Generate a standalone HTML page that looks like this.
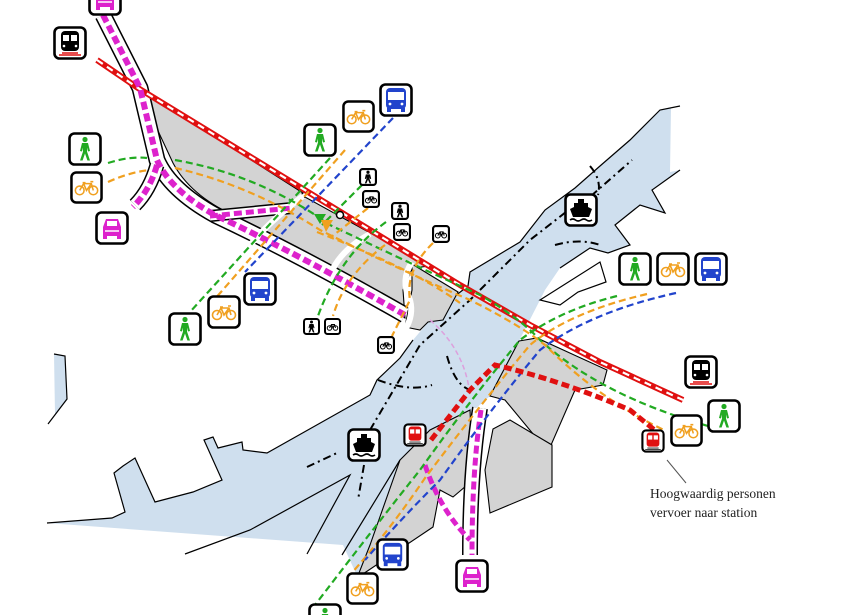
<!DOCTYPE html>
<html><head><meta charset="utf-8"><style>
html,body{margin:0;padding:0;background:#fff;}
svg{display:block;}
</style></head><body>
<svg width="866" height="615" viewBox="0 0 866 615" xmlns="http://www.w3.org/2000/svg">
<defs>
<symbol id="ped" viewBox="0 0 34 34"><rect x="1.5" y="1.5" width="31" height="31" rx="5" fill="#fff" stroke="#000" stroke-width="2.6"/><g fill="#22aa22"><circle cx="17" cy="7.5" r="2.6"/><path d="M14 11h6l2 8-2 .5-1-4v4l3 9h-2.6l-2.4-7-2.4 7h-2.6l3-9v-4l-1 4-2-.5z"/></g></symbol>
<symbol id="bike" viewBox="0 0 34 34"><rect x="1.5" y="1.5" width="31" height="31" rx="5" fill="#fff" stroke="#000" stroke-width="2.6"/><g fill="none" stroke="#f0a020" stroke-width="1.6"><circle cx="10" cy="20" r="4.5"/><circle cx="24" cy="20" r="4.5"/><path d="M10 20l4-7h8l2 7M14 13l3 7 5-7M13 12h3M21 11h3"/></g></symbol>
<symbol id="sbike" viewBox="0 0 34 34"><rect x="2" y="2" width="30" height="30" rx="5" fill="#fff" stroke="#000" stroke-width="4"/><g fill="none" stroke="#000" stroke-width="2"><circle cx="11" cy="20" r="4.5"/><circle cx="23" cy="20" r="4.5"/><path d="M11 20l4-7h6l2 7M15 13l3 7 3-7"/></g></symbol>
<symbol id="sped" viewBox="0 0 34 34"><rect x="2" y="2" width="30" height="30" rx="5" fill="#fff" stroke="#000" stroke-width="4"/><circle cx="17" cy="8" r="3"/><path d="M13 12h8l2 8-2 1-1-4v4l3 8h-3l-3-7-3 7h-3l3-8v-4l-1 4-2-1z"/></symbol>
<symbol id="bus" viewBox="0 0 34 34"><rect x="1.5" y="1.5" width="31" height="31" rx="5" fill="#fff" stroke="#000" stroke-width="2.6"/><rect x="7" y="5" width="20" height="21" rx="4" fill="#2244cc"/><rect x="9" y="9" width="16" height="8" fill="#fff"/><rect x="8" y="25" width="4" height="4" fill="#2244cc"/><rect x="22" y="25" width="4" height="4" fill="#2244cc"/><circle cx="11" cy="21" r="1.4" fill="#fff"/><circle cx="23" cy="21" r="1.4" fill="#fff"/></symbol>
<symbol id="car" viewBox="0 0 34 34"><rect x="1.5" y="1.5" width="31" height="31" rx="5" fill="#fff" stroke="#000" stroke-width="2.6"/><path d="M8 16l3-8h12l3 8v9H8z" fill="#dd22cc"/><rect x="12" y="10" width="10" height="5" fill="#fff"/><rect x="8" y="24" width="4" height="4" fill="#dd22cc"/><rect x="22" y="24" width="4" height="4" fill="#dd22cc"/><path d="M10 20h14" stroke="#fff" stroke-width="1.5"/></symbol>
<symbol id="train" viewBox="0 0 34 34"><rect x="1.5" y="1.5" width="31" height="31" rx="5" fill="#fff" stroke="#000" stroke-width="2.6"/><rect x="8" y="5" width="18" height="20" rx="4" fill="#000"/><rect x="10" y="9" width="6" height="6" fill="#fff"/><rect x="18" y="9" width="6" height="6" fill="#fff"/><circle cx="11" cy="20" r="1.3" fill="#fff"/><circle cx="23" cy="20" r="1.3" fill="#fff"/><path d="M9 27h16M6 29h22" stroke="#e01010" stroke-width="1.6"/></symbol>
<symbol id="rtrain" viewBox="0 0 34 34"><rect x="2" y="2" width="30" height="30" rx="5" fill="#fff" stroke="#000" stroke-width="3"/><rect x="8" y="5" width="18" height="20" rx="4" fill="#e01010"/><rect x="10" y="9" width="6" height="6" fill="#fff"/><rect x="18" y="9" width="6" height="6" fill="#fff"/><path d="M9 27h16M6 29h22" stroke="#444" stroke-width="1.5"/></symbol>
<symbol id="ship" viewBox="0 0 34 34"><rect x="1.5" y="1.5" width="31" height="31" rx="5" fill="#fff" stroke="#000" stroke-width="2.6"/><path d="M14 6h6v4h4v4l4 2-3 8H9l-3-8 4-2v-4h4z" fill="#000"/><path d="M6 27q3-2 5.5 0t5.5 0 5.5 0 5.5 0" stroke="#000" stroke-width="1.6" fill="none"/></symbol>
</defs>

<g fill="#cfdfee" stroke="none">
<polygon points="54,354 65,356 67,399 55,414"/>
<path d="M47,523 L112,518 L125,512 L114,473 L123,466 L135,458 L155,502 L193,492 L222,480 L204,440 L213,437 L218,448 L242,442 L243,450 L267,453 L370,395 L377,380 L400,358 L413,340 L430,320 L468,286 L470,272 L520,242 L545,210 L575,188 L600,166 L630,140 L660,110 L680,106 L671,108 L670,172 L680,170 L652,190 L665,213 L640,205 L615,225 L630,245 L608,253 L590,248 L560,268 L545,290 L540,300 L519,341 L490,396 L457,425 L424,487 L358,578 L343,545 Z"/>
</g>
<g fill="none" stroke="#000" stroke-width="1.2">
<path d="M54,354 L65,356 L67,399 L48,424"/>
<path d="M47,523 L112,518 L125,512 L114,473 L123,466 L135,458 L155,502 L193,492 L222,480 L204,440 L213,437 L218,448 L242,442 L243,450 L267,453 L370,395 L377,380 L400,358 L413,340"/>
<path d="M430,320 L450,300 L468,286 L470,272 L520,242 L545,210 L575,188 L600,166 L630,140 L660,110 L680,106"/>
<path d="M680,170 L652,190 L665,213 L640,205 L615,225 L630,245 L608,253 L590,248 L560,268"/>
<path d="M540,300 L600,262 L606,282 L578,292 L560,305 Z" fill="#fff"/>
<path d="M185,554 L250,530 L350,475 L307,554"/>
<path d="M342,555 L400,460"/>
</g>

<g fill="none" stroke="#000" stroke-width="2" stroke-dasharray="8,4,2,4">
<path d="M307,467 L337,453"/>
<path d="M370,430 L420,345 L470,300 L530,240 L575,205"/>
<path d="M591,196 L632,160"/>
<path d="M364,465 L358,500"/>
<path d="M378,380 Q410,392 432,385"/>
<path d="M447,356 Q455,385 470,390"/>
<path d="M555,245 Q580,238 600,245"/>
<path d="M590,166 Q602,180 598,195"/>
</g>

<g fill="#d3d3d3" stroke="#000" stroke-width="1.1">
<path d="M138,88 L303,193 L286,207 L233,215 Q190,195 173,163 Z"/>
<path d="M235,220 L285,210 L305,197 L430,266 L412,268 L403,290 L405,318 Q330,280 260,243 Z"/>
<path d="M412,264 L458,292 L443,320 L428,322 L420,330 L405,327 L412,290 Z"/>
<path d="M519,341 L537,338 L607,370 L603,385 L575,390 L548,452 L505,400 L490,396 Z"/>
<path d="M493,429 L510,420 L552,445 L552,487 L490,513 L485,470 Z"/>
<path d="M400,460 L430,430 L470,410 L473,480 L453,497 L440,490 L433,527 L357,578 L370,545 Z"/>
</g>

<g fill="none" stroke-linecap="butt" stroke-linejoin="round">
<path d="M103,15 L140,88 L157,160 Q170,190 215,215 Q300,255 405,315" stroke="#000" stroke-width="17"/>
<path d="M103,15 L140,88 L157,160 Q170,190 215,215 Q300,255 405,315" stroke="#fff" stroke-width="14"/>
<path d="M157,165 Q150,190 135,205" stroke="#000" stroke-width="15"/>
<path d="M157,165 Q150,190 135,205" stroke="#fff" stroke-width="12"/>
<path d="M210,216 L292,208" stroke="#000" stroke-width="12"/>
<path d="M210,216 L292,208" stroke="#fff" stroke-width="9"/>
<path d="M480,408 Q470,470 470,555" stroke="#000" stroke-width="16"/>
<path d="M480,408 Q470,470 470,555" stroke="#fff" stroke-width="13"/>
<path d="M303,196 Q265,225 248,248" stroke="#fff" stroke-width="6"/>
<path d="M370,234 Q340,250 330,275" stroke="#fff" stroke-width="6"/>
<path d="M412,262 Q400,280 410,300 Q414,315 405,330" stroke="#fff" stroke-width="6"/>
<path d="M97,60 L138,88 L460,285 L530,325 L600,362 L683,400" stroke="#e01010" stroke-width="6"/>
<path d="M97,60 L138,88 L460,285 L530,325 L600,362 L683,400" stroke="#fff" stroke-width="2.2" stroke-dasharray="7,5"/>
<path d="M103,15 L140,88 L157,160 Q170,190 215,215 Q300,255 405,315" stroke="#dd22cc" stroke-width="6" stroke-dasharray="8,4"/>
<path d="M157,165 Q150,190 133,207" stroke="#dd22cc" stroke-width="6" stroke-dasharray="8,4"/>
<path d="M210,216 L292,208" stroke="#dd22cc" stroke-width="5" stroke-dasharray="8,4"/>
<path d="M481,410 Q472,470 472,555" stroke="#dd22cc" stroke-width="5" stroke-dasharray="8,4"/>
<path d="M425,465 Q440,510 470,540" stroke="#dd22cc" stroke-width="5" stroke-dasharray="8,4"/>
<path d="M430,320 Q465,350 470,395" stroke="#dda0dd" stroke-width="1.5" stroke-dasharray="5,3"/>
</g>

<g fill="none" stroke-width="2.2" stroke-dasharray="7,4">
<path d="M108,163 Q130,156 147,158" stroke="#22aa22"/>
<path d="M108,182 Q130,172 150,170" stroke="#f0a020"/>
<path d="M175,160 Q260,175 330,225 Q420,268 480,295 Q520,318 540,340 Q600,395 708,426" stroke="#22aa22"/>
<path d="M175,168 Q250,185 320,230 Q400,270 470,300 Q520,325 545,345 Q600,400 666,431" stroke="#f0a020"/>
<path d="M317,232 Q415,270 460,303" stroke="#f0a020"/>
<path d="M330,158 L190,312" stroke="#22aa22"/>
<path d="M345,150 L214,300" stroke="#f0a020"/>
<path d="M393,118 L245,272" stroke="#2244cc"/>
<path d="M362,185 L322,225" stroke="#22aa22"/>
<path d="M368,208 L330,238" stroke="#f0a020"/>
<path d="M386,222 Q340,255 318,316" stroke="#22aa22"/>
<path d="M385,245 Q345,275 333,316" stroke="#f0a020"/>
<path d="M433,243 Q405,270 410,300 Q400,320 392,336" stroke="#f0a020"/>
<path d="M617,296 Q560,310 520,340 Q470,400 420,470 Q380,520 315,605" stroke="#22aa22"/>
<path d="M647,294 Q570,312 530,345 Q480,405 425,478 Q390,530 350,575" stroke="#f0a020"/>
<path d="M676,293 Q590,312 540,350 Q490,410 440,480 Q400,520 365,560" stroke="#2244cc"/>
</g>
<path d="M431,440 L470,390 L495,365 Q560,380 630,410 L657,432" fill="none" stroke="#e01010" stroke-width="5" stroke-dasharray="8,4"/>
<path d="M326,214 L320,224 L314,214Z" fill="#22aa22"/>
<path d="M333,220 L326,232 L321,220Z" fill="#f0a020"/>
<circle cx="340" cy="215" r="3.5" fill="#fff" stroke="#000" stroke-width="1.5"/>

<use href="#car" x="88" y="-18" width="34" height="34"/>
<use href="#train" x="53" y="26" width="34" height="34"/>
<use href="#ped" x="68" y="132" width="34" height="34"/>
<use href="#bike" x="70" y="171" width="33" height="33"/>
<use href="#car" x="95" y="211" width="34" height="34"/>
<use href="#ped" x="303" y="123" width="34" height="34"/>
<use href="#bike" x="342" y="100" width="33" height="33"/>
<use href="#bus" x="379" y="83" width="34" height="34"/>
<use href="#bus" x="243" y="272" width="34" height="34"/>
<use href="#bike" x="207" y="295" width="34" height="34"/>
<use href="#ped" x="168" y="312" width="34" height="34"/>
<use href="#sped" x="359" y="168" width="18" height="18"/>
<use href="#sbike" x="362" y="190" width="18" height="18"/>
<use href="#sped" x="391" y="202" width="18" height="18"/>
<use href="#sbike" x="393" y="223" width="18" height="18"/>
<use href="#sbike" x="432" y="225" width="18" height="18"/>
<use href="#sped" x="303" y="318" width="17" height="17"/>
<use href="#sbike" x="324" y="318" width="17" height="17"/>
<use href="#sbike" x="377" y="336" width="18" height="18"/>
<use href="#ship" x="564" y="193" width="34" height="34"/>
<use href="#ship" x="347" y="428" width="34" height="34"/>
<use href="#ped" x="618" y="252" width="34" height="34"/>
<use href="#bike" x="656" y="252" width="34" height="34"/>
<use href="#bus" x="694" y="252" width="34" height="34"/>
<use href="#train" x="684" y="355" width="34" height="34"/>
<use href="#ped" x="707" y="399" width="34" height="34"/>
<use href="#bike" x="670" y="414" width="33" height="33"/>
<use href="#rtrain" x="641" y="429" width="24" height="24"/>
<use href="#rtrain" x="403" y="423" width="24" height="24"/>
<use href="#bus" x="376" y="538" width="33" height="33"/>
<use href="#bike" x="346" y="572" width="33" height="33"/>
<use href="#car" x="455" y="559" width="34" height="34"/>
<use href="#ped" x="308" y="603" width="34" height="34"/>

<line x1="667" y1="460" x2="686" y2="483" stroke="#555" stroke-width="1"/>
<text x="650" y="498" font-family="'Liberation Serif', serif" font-size="13.5" fill="#222">Hoogwaardig personen</text>
<text x="650" y="517" font-family="'Liberation Serif', serif" font-size="13.5" fill="#222">vervoer naar station</text>
</svg>
</body></html>
